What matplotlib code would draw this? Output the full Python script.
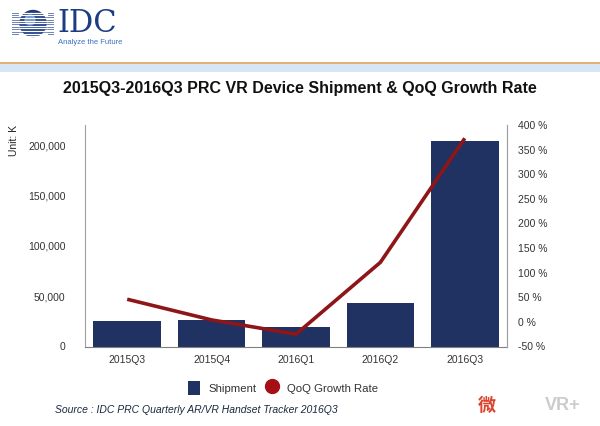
import matplotlib
matplotlib.use("Agg")
import matplotlib.pyplot as plt
from matplotlib.patches import Patch, Circle, Rectangle
from matplotlib.lines import Line2D
from matplotlib.ticker import FuncFormatter, MultipleLocator
import numpy as np

plt.rcParams['font.family'] = ['Liberation Sans', 'DejaVu Sans']

categories = ["2015Q3", "2015Q4", "2016Q1", "2016Q2", "2016Q3"]
shipment = [25000, 26000, 19500, 43000, 204000]
growth = [46, 4, -25, 121, 373]

navy = "#1f3262"
red = "#8e1518"

fig = plt.figure(figsize=(6, 4.26), dpi=100)
W, H = 600, 426

def fx(x):
    return x / W

def fy(y):
    return 1 - y / H

ax = fig.add_axes([fx(85), fy(346.5), fx(507) - fx(85), fy(125) - fy(346.5)])
x = range(len(categories))
ax.bar(x, shipment, width=0.8, color=navy, zorder=2)
ax.set_xlim(-0.5, 4.5)
ax.set_ylim(0, 220000)
ax.yaxis.set_major_locator(MultipleLocator(50000))
ax.yaxis.set_major_formatter(FuncFormatter(lambda v, p: f"{int(v):,}"))
ax.set_xticks(list(x))
ax.set_xticklabels(categories)
ax.spines["top"].set_visible(False)
for s in ["left", "bottom", "right"]:
    ax.spines[s].set_color("#a0a0a0")
    ax.spines[s].set_linewidth(0.8)
ax.spines["bottom"].set_color("#808080")
ax.tick_params(axis="both", length=0, labelsize=7.5, colors="#333333", pad=6)
ax.tick_params(axis="y", pad=14)

ax2 = ax.twinx()
ax2.plot(list(x), growth, color=red, lw=2.6, zorder=3, solid_capstyle="butt")
ax2.set_ylim(-50, 400)
ax2.yaxis.set_major_locator(MultipleLocator(50))
ax2.yaxis.set_major_formatter(FuncFormatter(lambda v, p: f"{int(v)} %"))
ax2.tick_params(axis="y", length=0, labelsize=7.5, colors="#333333", pad=8)
for s in ["top", "left", "bottom"]:
    ax2.spines[s].set_visible(False)
ax2.spines["right"].set_color("#a0a0a0")
ax2.spines["right"].set_linewidth(0.8)

# Unit label
fig.text(fx(14), fy(140), "Unit: K", rotation=90, ha="center", va="center",
         fontsize=7.5, color="#222222")

# Title
fig.text(fx(300), fy(89), "2015Q3-2016Q3 PRC VR Device Shipment & QoQ Growth Rate",
         ha="center", va="center", fontsize=11.5, fontweight="bold", color="#111111")

# Header lines
fig.add_artist(Rectangle((0, fy(72)), 1, fy(64) - fy(72), transform=fig.transFigure,
                         color="#d6e6f4", lw=0))
fig.add_artist(Line2D([0, 1], [fy(63), fy(63)], transform=fig.transFigure,
                      color="#d9a25a", lw=1.2))

# Logo
logo_ax = fig.add_axes([fx(8), fy(40), fx(50), fy(0) - fy(40)])
logo_ax.set_xlim(8, 58)
logo_ax.set_ylim(40, 0)
logo_ax.axis("off")
for yy in np.linspace(12.5, 34, 10):
    logo_ax.add_line(Line2D([12, 53], [yy, yy], color="#6f83b3", lw=0.7))
logo_ax.add_patch(Circle((33, 23.5), 13, color="#1c3c84", zorder=3))
logo_ax.add_patch(Circle((30, 20), 5, color="#8fb3e6", alpha=0.7, zorder=4))
for yy in np.linspace(11.5, 35, 10):
    logo_ax.add_line(Line2D([19, 47], [yy + 1.2, yy + 1.2], color="white", lw=0.9, zorder=5))

fig.text(fx(57), fy(23), "IDC", fontsize=22, family="DejaVu Serif", color="#1c3c84",
         ha="left", va="center")
fig.text(fx(58), fy(43), "Analyze the Future", fontsize=5.5, color="#3a6fc0",
         ha="left", va="center")

# Legend
handles = [Patch(facecolor=navy, edgecolor="none", label="Shipment"),
           Line2D([], [], marker="o", color="none", markerfacecolor="#a50f15",
                  markeredgecolor="#a50f15", markersize=10, label="QoQ Growth Rate")]
fig.legend(handles=handles, loc="center", bbox_to_anchor=(fx(283), fy(388)), ncol=2,
           frameon=False, fontsize=8.2, handlelength=1.0, handleheight=1.6,
           columnspacing=0.8, handletextpad=0.8, labelcolor="#333333")

# Source
fig.text(fx(55), fy(410), "Source : IDC PRC Quarterly AR/VR Handset Tracker 2016Q3",
         fontsize=7.5, style="italic", color="#1a2a40", ha="left", va="center")

# Watermark
fig.text(fx(478), fy(405), "\u5fae", fontsize=13, color="#d9452f",
         family=["Noto Sans CJK SC", "DejaVu Sans"], ha="left", va="center", fontweight="bold")
fig.text(fx(545), fy(405), "VR+", fontsize=13, color="#cccccc", ha="left", va="center",
         fontweight="bold")

fig.savefig("out.png", dpi=100, facecolor="white")
